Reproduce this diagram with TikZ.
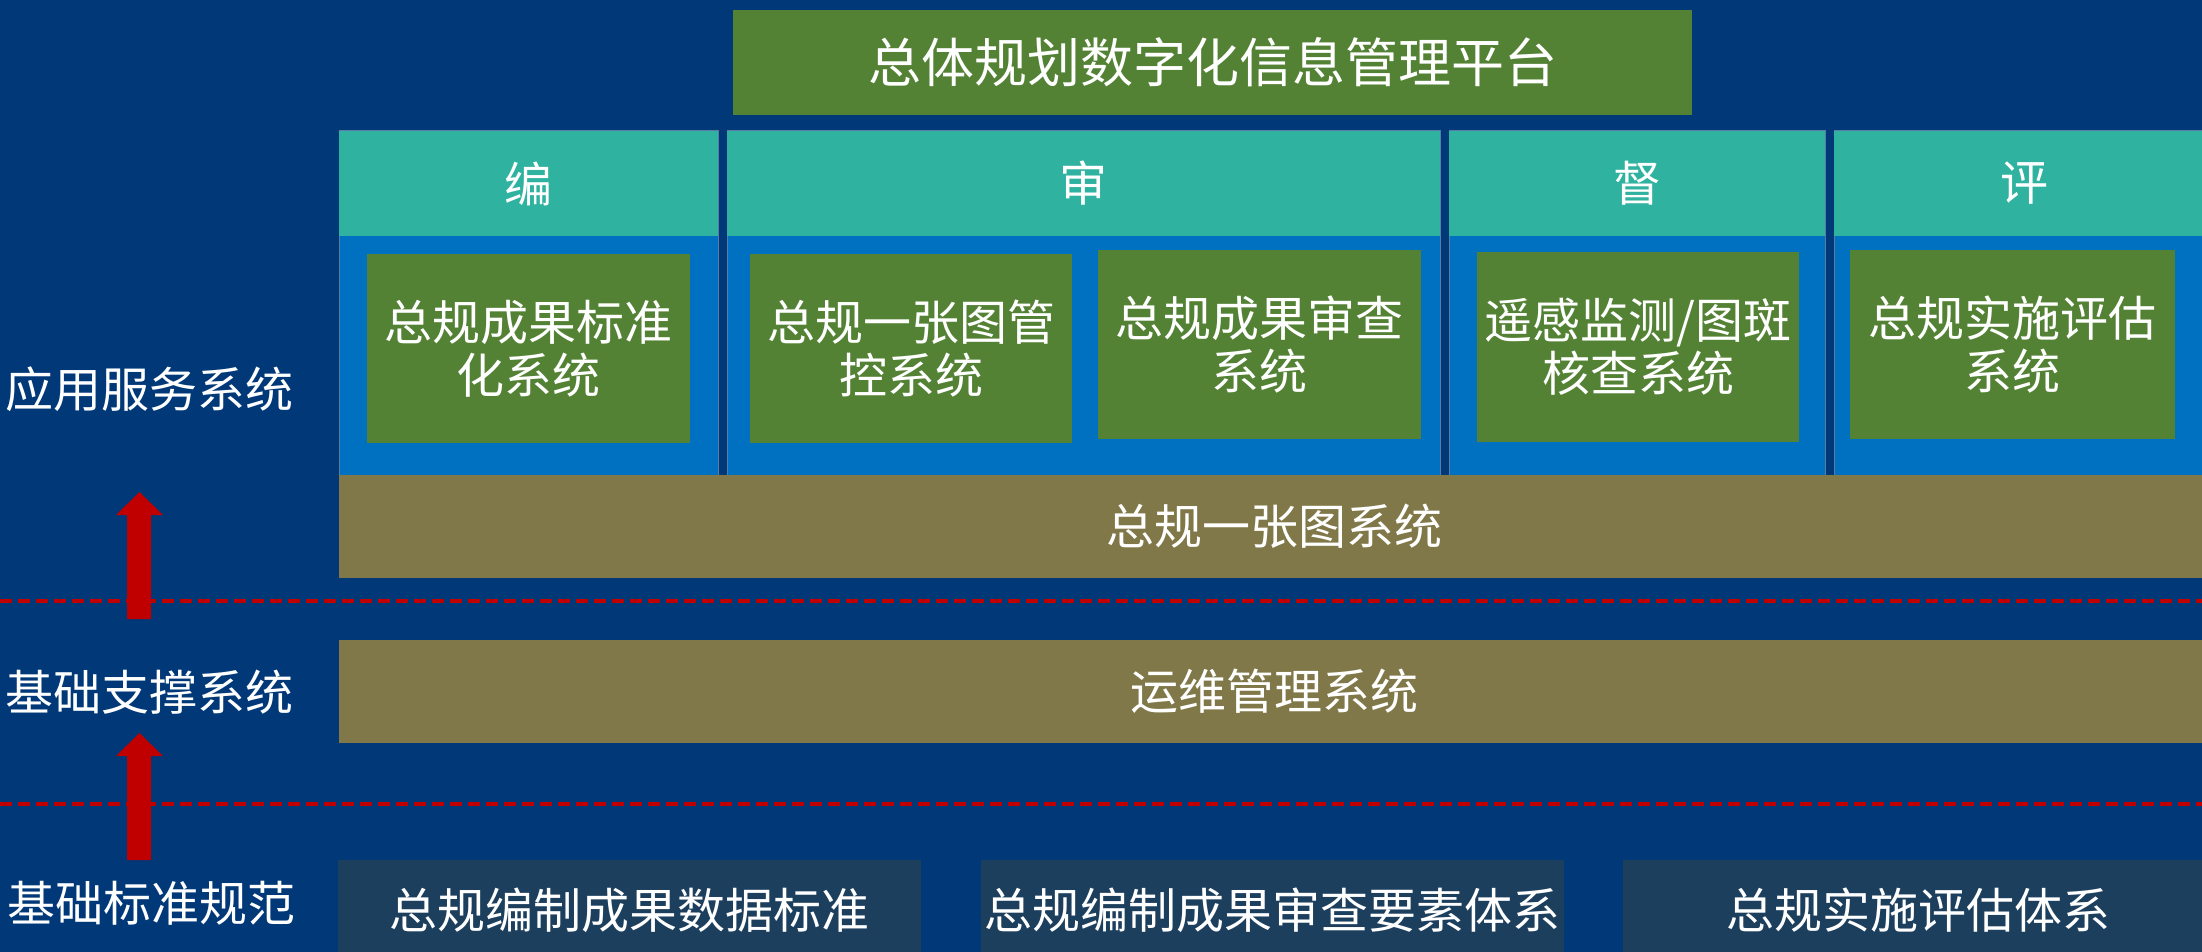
\documentclass[tikz,border=0pt]{standalone}
\usepackage{fontspec}
\setmainfont{Noto Sans CJK SC}
\definecolor{bg}{HTML}{003878}
\definecolor{teal}{HTML}{2FB2A0}
\definecolor{colblue}{HTML}{0070C0}
\definecolor{grn}{HTML}{548235}
\definecolor{olive}{HTML}{807848}
\definecolor{navybox}{HTML}{1D3F5E}
\definecolor{arrred}{HTML}{C00000}
\definecolor{edge}{HTML}{5A7BA5}
\tikzset{
  blk/.style={inner sep=0pt, outer sep=0pt, anchor=north west, text=white, align=center,
    font=\fontsize{48}{53}\selectfont},
  head/.style={blk, fill=teal},
  colbody/.style={blk, fill=colblue, draw=edge, line width=1pt},
  sysbox/.style={blk, fill=grn},
  basebox/.style={blk, fill=olive},
  stdbox/.style={blk, fill=navybox},
  sidelabel/.style={inner sep=0pt, anchor=west, text=white, font=\fontsize{48}{53}\selectfont},
  sepline/.style={draw=arrred, line width=3.5pt, dash pattern=on 12pt off 6pt},
  uparrow/.style={fill=arrred}
}
\begin{document}
\begin{tikzpicture}[x=1pt,y=-1pt]
\useasboundingbox (0,0) rectangle (2202,952);
\fill[bg] (0,0) rectangle (2202,952);

% top platform
\node[sysbox, minimum width=959pt, minimum height=105pt, font=\fontsize{53}{58}\selectfont] (top) at (733,10) {总体规划数字化信息管理平台};

% columns: body then header
\node[colbody, minimum width=379pt, minimum height=344pt] (cb1) at (339,131) {};
\node[colbody, minimum width=713pt, minimum height=344pt] (cb2) at (727,131) {};
\node[colbody, minimum width=376pt, minimum height=344pt] (cb3) at (1449,131) {};
\node[colbody, minimum width=380pt, minimum height=344pt] (cb4) at (1834,131) {};

\node[head, minimum width=379pt, minimum height=105pt] (h1) at (339,131) {编};
\node[head, minimum width=713pt, minimum height=105pt] (h2) at (727,131) {审};
\node[head, minimum width=376pt, minimum height=105pt] (h3) at (1449,131) {督};
\node[head, minimum width=380pt, minimum height=105pt] (h4) at (1834,131) {评};

% inner system boxes
\node[sysbox, minimum width=323pt, minimum height=189pt] (s1) at (367,254) {总规成果标准\\化系统};
\node[sysbox, minimum width=322pt, minimum height=189pt] (s2) at (750,254) {总规一张图管\\控系统};
\node[sysbox, minimum width=323pt, minimum height=189pt] (s3) at (1098,250) {总规成果审查\\系统};
\node[sysbox, minimum width=322pt, minimum height=190pt] (s4) at (1477,252) {遥感监测/图斑\\核查系统};
\node[sysbox, minimum width=325pt, minimum height=189pt] (s5) at (1850,250) {总规实施评估\\系统};

% base layers
\node[basebox, minimum width=1870pt, minimum height=103pt] (yzt) at (339,475) {总规一张图系统};
\node[basebox, minimum width=1870pt, minimum height=103pt] (yw) at (339,640) {运维管理系统};

% standards
\node[stdbox, minimum width=583pt, minimum height=100pt] (b1) at (338,860) {总规编制成果数据标准};
\node[stdbox, minimum width=583pt, minimum height=100pt] (b2) at (981,860) {总规编制成果审查要素体系};
\node[stdbox, minimum width=590pt, minimum height=100pt] (b3) at (1623,860) {总规实施评估体系};

% side labels
\node[sidelabel] (l1) at (5,389) {应用服务系统};
\node[sidelabel] (l2) at (5,692) {基础支撑系统};
\node[sidelabel] (l3) at (7,903) {基础标准规范};

% separators
\coordinate (d1a) at (0,601);
\coordinate (d1b) at (2202,601);
\coordinate (d2a) at (0,804);
\coordinate (d2b) at (2202,804);
\draw[sepline] (d1a) -- (d1b);
\draw[sepline] (d2a) -- (d2b);

% block arrows
\fill[uparrow] (127,619) -- (127,515) -- (116,515) -- (139.5,492) -- (163,515) -- (151,515) -- (151,619) -- cycle;
\fill[uparrow] (127,860) -- (127,756) -- (116,756) -- (139.5,733) -- (163,756) -- (151,756) -- (151,860) -- cycle;
\end{tikzpicture}
\end{document}
